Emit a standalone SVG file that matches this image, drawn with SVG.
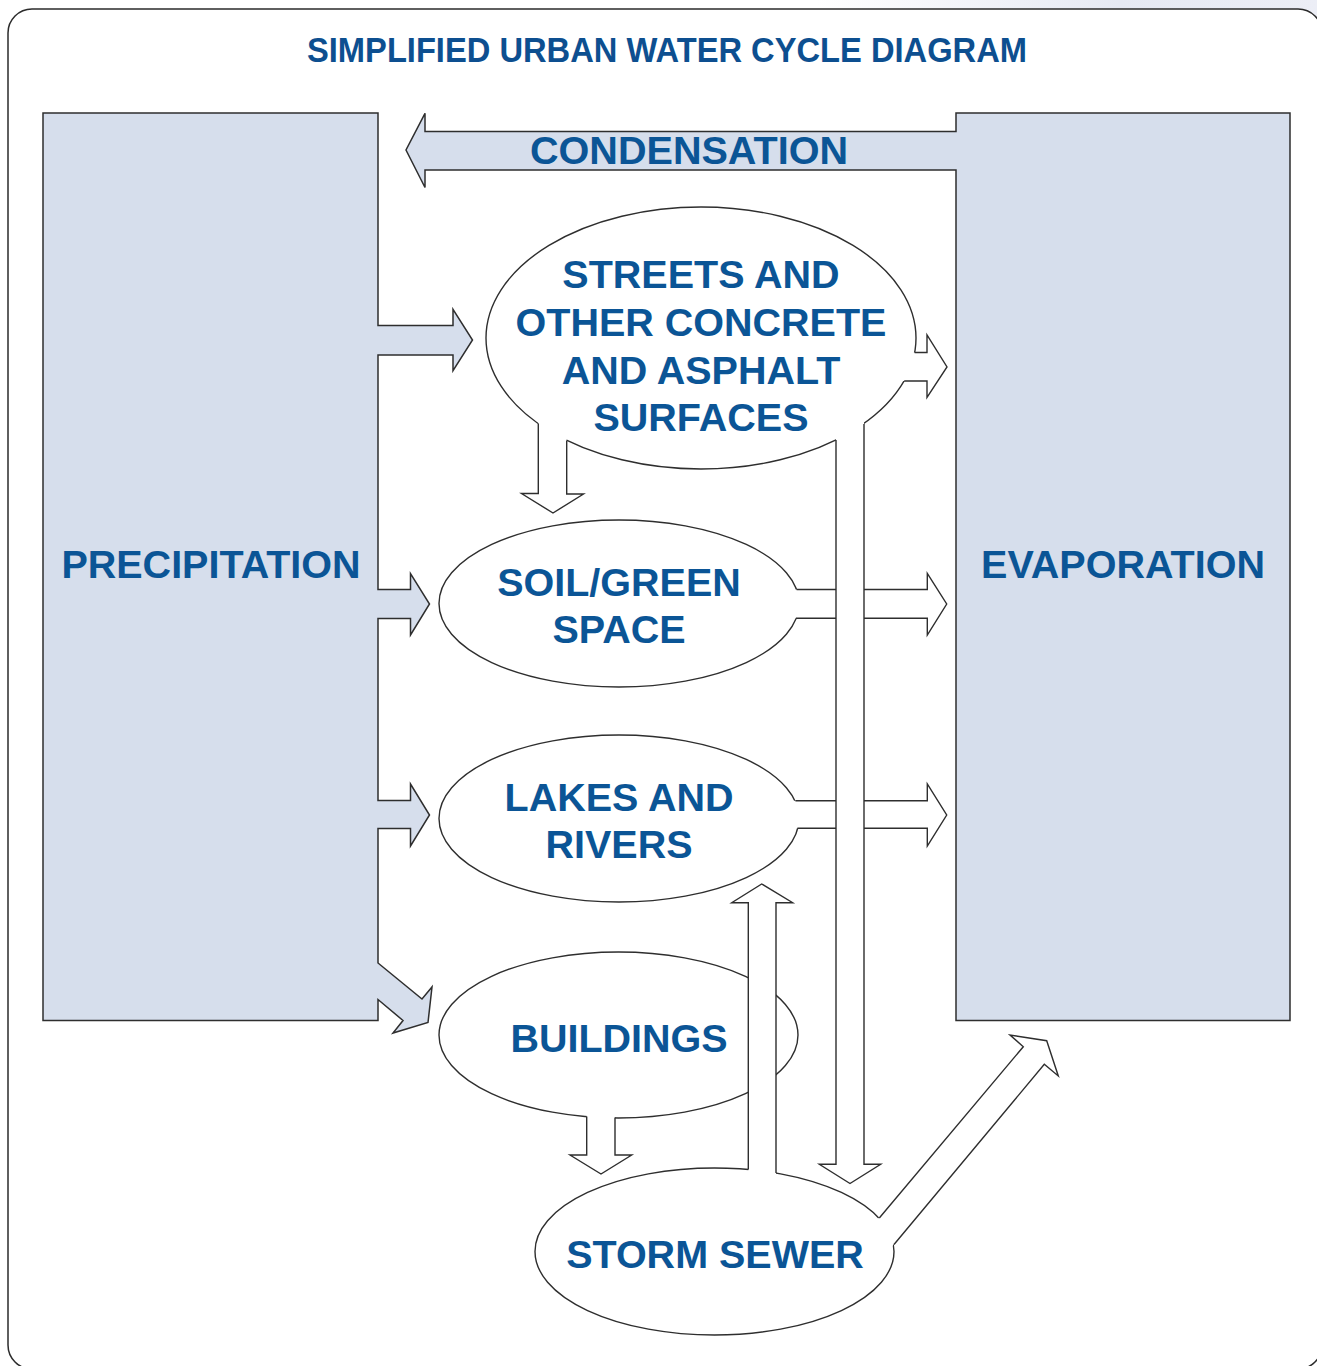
<svg xmlns="http://www.w3.org/2000/svg" width="1317" height="1366" viewBox="0 0 1317 1366">
<defs>
<linearGradient id="glow" x1="0" y1="0" x2="1" y2="0">
<stop offset="0" stop-color="#ffffff"/>
<stop offset="0.62" stop-color="#ffffff"/>
<stop offset="0.85" stop-color="#e6e9f3"/>
<stop offset="1" stop-color="#eceef6"/>
</linearGradient>
<style>
.big{fill:#d6deec;stroke:#2e2e2e;stroke-width:1.5}
.node{fill:#ffffff;stroke:#2e2e2e;stroke-width:1.4}
.af{fill:#ffffff;stroke:none}
.as{fill:none;stroke:#2e2e2e;stroke-width:1.4;stroke-linejoin:miter}
.lbl{font-family:"Liberation Sans",Arial,sans-serif;font-weight:bold;font-size:39.5px;fill:#0b5596;text-anchor:middle}
.title{font-family:"Liberation Sans",Arial,sans-serif;font-weight:bold;font-size:35px;fill:#0d4f90;text-anchor:middle}
</style>
</defs>
<rect x="0" y="0" width="1317" height="40" fill="url(#glow)"/>
<rect id="frame" x="8" y="9" width="1314" height="1360" rx="24" ry="24" fill="#ffffff" stroke="#2b2b2b" stroke-width="1.5"/>
<text class="title" x="667" y="62" textLength="720" lengthAdjust="spacingAndGlyphs">SIMPLIFIED URBAN WATER CYCLE DIAGRAM</text>

<g id="precipitation">
<path class="big" d="M43,113 H378 V325.5 H453 V309.3 L472.5,340 L453,370.7 V355 H378 V589.5 H410.5 V573.5 L429.5,604 L410.5,635 V618.5 H378 V800.5 H410.5 V784 L429.5,815 L410.5,846 V828.5 H378 V963 L422,999 L432,987 L428,1022.5 L393,1033 L403,1020.5 L378,999.5 V1020.5 H43 Z"/>
<text class="lbl" x="211" y="578">PRECIPITATION</text>
</g>

<g id="evaporation">
<path class="big" d="M956,113 H1290 V1020.5 H956 V170 H425 V187.5 L406,150 L425,113.3 V131.5 H956 Z"/>
<text class="lbl" x="1123" y="578">EVAPORATION</text>
<text class="lbl" x="689" y="164" textLength="318" lengthAdjust="spacingAndGlyphs">CONDENSATION</text>
</g>

<g id="streets">
<ellipse class="node" cx="701" cy="338" rx="215" ry="131"/>
<text class="lbl" x="701" y="288">STREETS AND</text>
<text class="lbl" x="701" y="336">OTHER CONCRETE</text>
<text class="lbl" x="701" y="384">AND ASPHALT</text>
<text class="lbl" x="701" y="431">SURFACES</text>
</g>

<g id="soil">
<ellipse class="node" cx="619" cy="603.5" rx="180" ry="83.5"/>
<text class="lbl" x="619" y="596">SOIL/GREEN</text>
<text class="lbl" x="619" y="643">SPACE</text>
</g>

<g id="lakes">
<ellipse class="node" cx="619" cy="818.5" rx="180" ry="83.5"/>
<text class="lbl" x="619" y="811">LAKES AND</text>
<text class="lbl" x="619" y="858">RIVERS</text>
</g>

<g id="buildings">
<ellipse class="node" cx="618.5" cy="1035" rx="179.5" ry="83"/>
<text class="lbl" x="619" y="1052">BUILDINGS</text>
</g>

<g id="storm-sewer">
<ellipse class="node" cx="714.5" cy="1251.5" rx="179.5" ry="83.5"/>
<text class="lbl" x="715" y="1268">STORM SEWER</text>
</g>

<g id="connectors">
<path class="af" d="M898,352.5 H927 V335 L947,367 L927,397.5 V381 H898 Z"/>
<path class="as" d="M914.6,352.5 H927 V335 L947,367 L927,397.5 V381 H904.2"/>
<path class="af" d="M538.3,412 V493.5 H521.5 L553,513 L583.5,494 H566.7 V412 Z"/>
<path class="as" d="M538.3,423.5 V493.5 H521.5 L553,513 L583.5,494 H566.7 V440.5"/>
<path class="af" d="M786,589.5 H927.3 V573.3 L946.7,604 L927.3,635 V618.3 H786 Z"/>
<path class="as" d="M796.6,589.5 H927.3 V573.3 L946.7,604 L927.3,635 V618.3 H795.9"/>
<path class="af" d="M786,800.7 H927.3 V784 L946.7,815 L927.3,846 V828.3 H786 Z"/>
<path class="as" d="M795.4,800.7 H927.3 V784 L946.7,815 L927.3,846 V828.3 H797.4"/>
<path class="af" d="M836,412 V1164.3 H819.3 L850,1183.5 L880.7,1164.3 H864 V412 Z"/>
<path class="as" d="M836,440 V1164.3 H819.3 L850,1183.5 L880.7,1164.3 H864 V424"/>
<path class="af" d="M586.7,1105 V1155 H570 L601,1174 L631.7,1155 H615 V1105 Z"/>
<path class="as" d="M586.7,1116.5 V1155 H570 L601,1174 L631.7,1155 H615 V1117.5"/>
<path class="af" d="M748.3,1186 V902.7 H731.7 L761.7,884 L792.7,902.7 H776 V1186 Z"/>
<path class="as" d="M748.3,1169.5 V902.7 H731.7 L761.7,884 L792.7,902.7 H776 V1173"/>
<path class="af" d="M871,1227 L1023.3,1046.7 L1010,1035 L1046.7,1040.7 L1058.3,1076 L1044.3,1064.3 L886,1253.5 Z"/>
<path class="as" d="M879.3,1218 L1023.3,1046.7 L1010,1035 L1046.7,1040.7 L1058.3,1076 L1044.3,1064.3 L894,1244.5"/>
</g>
</svg>
